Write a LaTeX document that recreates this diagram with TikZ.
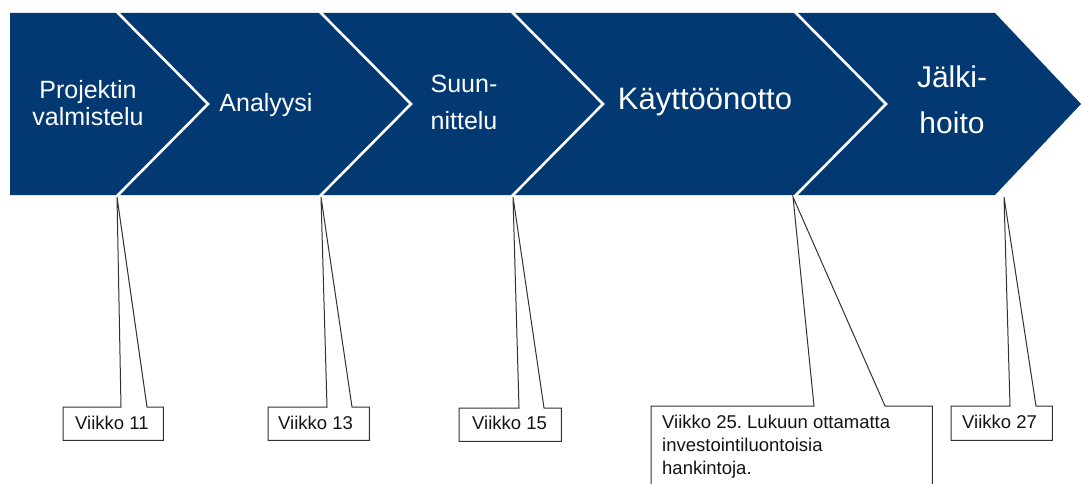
\documentclass[tikz,border=0pt]{standalone}
\usepackage{fontspec}
\setmainfont{Liberation Sans}
\usetikzlibrary{calc}
\frenchspacing
\definecolor{phaseblue}{RGB}{2,57,114}
\definecolor{calloutline}{RGB}{50,50,50}
\definecolor{weekink}{RGB}{20,20,20}
\begin{document}
\begin{tikzpicture}[x=1pt,y=-1pt,
  phasetext/.style={text=white, align=center, inner sep=0pt, anchor=base},
  smallphase/.style={phasetext, font=\fontsize{25}{27}\selectfont},
  bigphase/.style={phasetext, font=\fontsize{31}{36}\selectfont},
  divider/.style={white, line width=2.6pt},
  weekbox/.style={rectangle, inner sep=0pt, anchor=north west, fill=white, minimum height=33pt},
  weektext/.style={font=\fontsize{18.5}{23}\selectfont, text=weekink, align=left, inner sep=0pt, anchor=base west},
  callout/.style={draw=calloutline, line width=1pt, line join=miter}]
\useasboundingbox (0,0) rectangle (1081,484);
\clip (0,0) rectangle (1081,484);
\fill[white] (0,0) rectangle (1081,484);

% phase band with pointed end
\fill[phaseblue] (10,13) -- (995,13) -- (1081,104) -- (995,195) -- (10,195) -- cycle;
% white chevron separators between phases
\foreach \x in {117,320,512,795}
  \draw[divider] (\x,12) -- (\x+91,104) -- (\x,196);

% phase labels (base anchor sits on the last line)
\node[smallphase] (p1) at (88,125) {Projektin\\valmistelu};
\node[smallphase] (p2) at (266,112) {Analyysi};
\node[smallphase, font=\fontsize{25}{36}\selectfont] (p3) at (464,129) {Suun-\\nittelu};
\node[bigphase] (p4) at (705,110) {Käyttöönotto};
\node[bigphase, font=\fontsize{30}{45}\selectfont] (p5) at (952,133) {Jälki-\\hoito};

% callout tips on the lower edge of the band
\coordinate (t1) at (117,197);
\coordinate (t2) at (321,197);
\coordinate (t3) at (513,197);
\coordinate (t4) at (793,197);
\coordinate (t5) at (1004,197);

% callout boxes
\node[weekbox, minimum width=100pt] (b1) at (63,407) {};
\node[weekbox, minimum width=101pt] (b2) at (268,407) {};
\node[weekbox, minimum width=102pt] (b3) at (459,408) {};
\node[weekbox, minimum width=281pt, minimum height=100pt] (b4) at (651,406) {};
\node[weekbox, minimum width=101pt, minimum height=34pt] (b5) at (951,406) {};

% callout outlines: box with a wedge pointing up to the band
\draw[callout] (b1.north west) -- ($(b1.north west)+(58,0)$) -- (t1) -- ($(b1.north west)+(84,0)$)
  -- (b1.north east) -- (b1.south east) -- (b1.south west) -- cycle;
\draw[callout] (b2.north west) -- ($(b2.north west)+(59,0)$) -- (t2) -- ($(b2.north west)+(84,0)$)
  -- (b2.north east) -- (b2.south east) -- (b2.south west) -- cycle;
\draw[callout] (b3.north west) -- ($(b3.north west)+(60,0)$) -- (t3) -- ($(b3.north west)+(85,0)$)
  -- (b3.north east) -- (b3.south east) -- (b3.south west) -- cycle;
\draw[callout] (b4.north west) -- ($(b4.north west)+(163,0)$) -- (t4) -- ($(b4.north west)+(234,0)$)
  -- (b4.north east) -- (b4.south east) -- (b4.south west) -- cycle;
\draw[callout] (b5.north west) -- ($(b5.north west)+(59,0)$) -- (t5) -- ($(b5.north west)+(85,0)$)
  -- (b5.north east) -- (b5.south east) -- (b5.south west) -- cycle;

% callout texts (base anchor sits on the last line)
\node[weektext] (w1) at ($(b1.north west)+(12,22)$) {Viikko 11};
\node[weektext] (w2) at ($(b2.north west)+(10,22)$) {Viikko 13};
\node[weektext] (w3) at ($(b3.north west)+(13,21)$) {Viikko 15};
\node[weektext] (w4) at ($(b4.north west)+(11,68)$) {Viikko 25. Lukuun ottamatta\\investointiluontoisia\\hankintoja.};
\node[weektext] (w5) at ($(b5.north west)+(11,22)$) {Viikko 27};
\end{tikzpicture}
\end{document}
